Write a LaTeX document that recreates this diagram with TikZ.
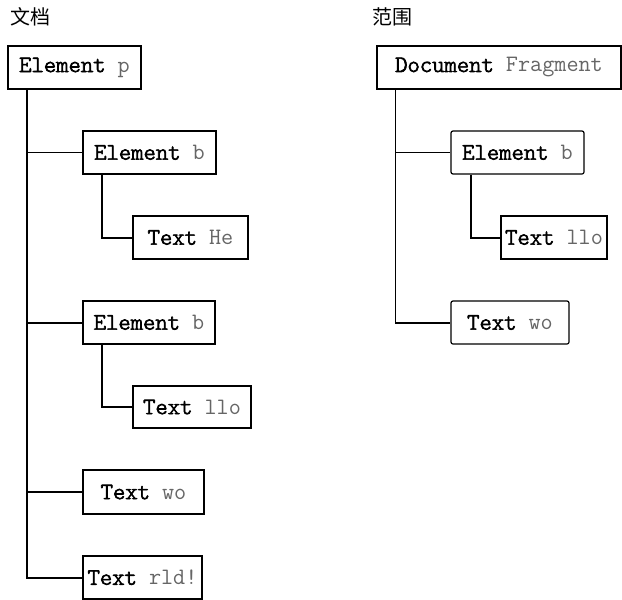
\documentclass[tikz,border=0pt]{standalone}
\usepackage{fontspec}
\setmonofont{Latin Modern Mono}[BoldFont={Latin Modern Mono Light}, BoldFeatures={FakeBold=3}]
\newfontfamily\cjk{Noto Sans CJK SC}
\begin{document}
\begin{tikzpicture}[x=1pt,y=-1pt,
  nbox/.style={draw=black,line width=1.2pt,inner sep=0pt,minimum height=43pt,
    font=\ttfamily\fontsize{23.5}{25}\selectfont},
  rbox/.style={nbox,rounded corners=2pt},
  thickline/.style={line width=2pt},
  thinline/.style={line width=1pt},
  title/.style={inner sep=0pt,anchor=west,font=\cjk\fontsize{20}{22}\selectfont}]
\newcommand{\lbl}[2]{\textbf{#1} {\color{black!60}#2}}
\useasboundingbox (0,0) rectangle (622,600);
% titles
\node[title] (t1) at (10,17) {文档};
\node[title] (t2) at (372,17) {范围};
% left tree
\node[nbox,minimum width=133pt] (p) at (74.5,67.5) {\lbl{Element}{p}};
\node[nbox,minimum width=133pt] (b1) at (149.5,152.5) {\lbl{Element}{b}};
\node[nbox,minimum width=115pt] (he) at (190.5,237.5) {\lbl{Text}{He}};
\node[nbox,minimum width=132pt] (b2) at (149,322.5) {\lbl{Element}{b}};
\node[nbox,minimum width=118pt,minimum height=42pt] (llo) at (192,407) {\lbl{Text}{llo}};
\node[nbox,minimum width=121pt,minimum height=44pt] (wo) at (143.5,492) {\lbl{Text}{wo}};
\node[nbox,minimum width=119pt] (rld) at (142.5,577.5) {\lbl{Text}{rld!}};
\coordinate (pt) at ([xshift=20pt]p.south west);
\coordinate (b1t) at ([xshift=20pt]b1.south west);
\coordinate (b2t) at ([xshift=20pt]b2.south west);
\draw[thickline] (pt) |- (rld.west);
\draw[thinline] (pt) |- (b1.west);
\draw[thickline] (pt) |- (b2.west);
\draw[thickline] (pt) |- (wo.west);
\draw[thickline] (b1t) |- (he.west);
\draw[thickline] (b2t) |- (llo.west);
% right tree
\node[nbox,minimum width=244pt] (df) at (499,67.5) {\lbl{Document}{Fragment}};
\node[rbox,minimum width=133pt] (rb) at (517.5,152.5) {\lbl{Element}{b}};
\node[nbox,minimum width=106pt] (rllo) at (554,237.5) {\lbl{Text}{llo}};
\node[rbox,minimum width=118pt] (rwo) at (510,322.5) {\lbl{Text}{wo}};
\coordinate (dft) at ([xshift=19pt]df.south west);
\coordinate (rbt) at ([xshift=21pt]rb.south west);
\draw[thinline] (dft) |- (rwo.west);
\draw[thinline] (dft) |- (rb.west);
\draw[thickline] (dft |- rwo.west) -- (rwo.west);
\draw[thickline] (rbt) |- (rllo.west);
\end{tikzpicture}
\end{document}
